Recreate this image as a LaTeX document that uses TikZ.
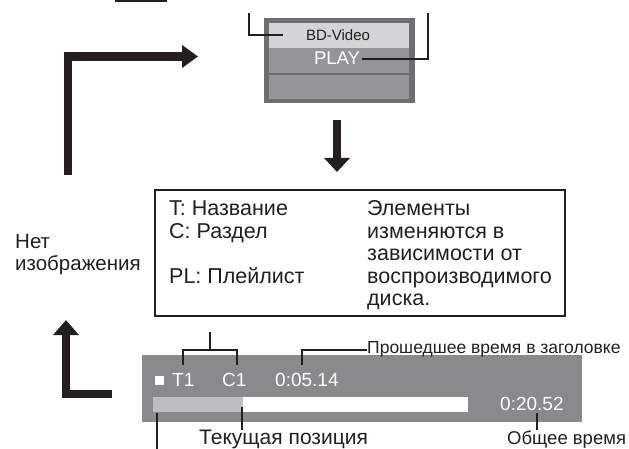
\documentclass[tikz,border=0pt]{standalone}
\usepackage{fontspec}
\setmainfont{Liberation Sans}
\usetikzlibrary{arrows.meta}
\definecolor{scrdark}{HTML}{6D6E70}
\definecolor{scrlight}{HTML}{D3D4D6}
\definecolor{scrmid}{HTML}{939598}
\definecolor{bardark}{HTML}{898A8C}
\definecolor{barlight}{HTML}{BCBEC0}
\definecolor{ink}{HTML}{231F20}
\begin{document}
\begin{tikzpicture}[x=1pt,y=-1pt,
  box/.style={draw=none,inner sep=0pt,outer sep=0pt,anchor=north west},
  txt/.style={inner sep=0pt,anchor=base west,text=ink},
  scrtxt/.style={inner sep=0pt,anchor=base west,text=white},
  callout/.style={draw=ink,line width=1.5pt},
  bigarrow/.style={draw=ink,line width=8.5pt,line join=miter},
]
\useasboundingbox (0,0) rectangle (629,449);
% partial mark at top
\fill[ink] (115,0) rectangle (167,2);

% top screen
\node[box,fill=scrdark,minimum width=151pt,minimum height=85pt] (scr) at (264,18) {};
\node[box,fill=scrlight,minimum width=140pt,minimum height=25pt] (band1) at (269,23) {};
\node[box,fill=scrmid,minimum width=140pt,minimum height=25pt] (band2) at (269,48) {};
\node[box,fill=scrmid,minimum width=140pt,minimum height=24pt] (band3) at (269,75) {};
\node[inner sep=0pt,anchor=base,text=ink,font=\fontsize{15}{16}\selectfont] (bd) at (338,41) {BD-Video};
\node[inner sep=0pt,anchor=base,text=white,font=\fontsize{18.5}{19}\selectfont] (play) at (337,65) {PLAY};
\coordinate (c1top) at (249,13);
\coordinate (c1end) at (283,35);
\coordinate (c2top) at (428,13);
\coordinate (c2end) at (362,59);
\draw[callout] (c1top) |- (c1end);
\draw[callout] (c2top) |- (c2end);

% arrows
\coordinate (a1s) at (68,175);
\coordinate (a1e) at (198,56.5);
\draw[bigarrow,-{Triangle[length=16pt,width=22pt]}] (a1s) |- (a1e);
\coordinate (a2s) at (337,120);
\coordinate (a2e) at (337,172);
\draw[bigarrow,-{Triangle[length=14pt,width=25pt]}] (a2s) -- (a2e);
\coordinate (a3s) at (112,394);
\coordinate (a3e) at (66,320);
\draw[bigarrow,-{Triangle[length=15pt,width=25pt]}] (a3s) -| (a3e);

% info box
\node[box,draw=ink,line width=1.6pt,minimum width=410pt,minimum height=126pt] (info) at (155,190) {};
\begin{scope}[font=\fontsize{21.5}{23}\selectfont]
\node[txt] (t1) at (169,216) {T: Название};
\node[txt] (t2) at (169,238) {C: Раздел};
\node[txt] (t3) at (169,283) {PL: Плейлист};
\node[txt] (e1) at (367,216) {Элементы};
\node[txt] (e2) at (367,238) {изменяются в};
\node[txt] (e3) at (367,260) {зависимости от};
\node[txt] (e4) at (367,283) {воспроизводимого};
\node[txt] (e5) at (367,305) {диска.};
\end{scope}
\begin{scope}[font=\fontsize{20.5}{22}\selectfont]
\node[txt] (n1) at (15,248) {Нет};
\node[txt] (n2) at (15,270) {изображения};
\end{scope}

% bottom screen
\node[box,fill=bardark,minimum width=440pt,minimum height=67pt] (bar) at (142,355) {};
\node[box,fill=white,minimum width=315pt,minimum height=15pt] (prog) at (153,397) {};
\node[box,fill=barlight,minimum width=90pt,minimum height=15pt] (progd) at (153,397) {};
\node[box,fill=white,minimum width=9pt,minimum height=9pt] (sq) at (155,376) {};
\begin{scope}[font=\fontsize{19}{21}\selectfont]
\node[scrtxt] (T1) at (172,386) {T1};
\node[scrtxt] (C1) at (222,386) {C1};
\node[scrtxt] (el) at (275,386) {0:05.14};
\node[scrtxt] (tot) at (500,410) {0:20.52};
\end{scope}
% callouts bottom
\coordinate (b1) at (183,365);
\coordinate (b2) at (237,365);
\coordinate (bm) at (210,350);
\coordinate (btop) at (210,332);
\draw[callout] (b1) |- (bm) -| (b2);
\draw[callout] (bm) -- (btop);
\node[txt,font=\fontsize{17.5}{19}\selectfont] (lel) at (367,353) {Прошедшее время в заголовке};
\coordinate (elb) at (302,365);
\draw[callout] (elb) |- (lel.west |- 0,350);
\node[txt,font=\fontsize{21}{22}\selectfont] (lcur) at (199,444) {Текущая позиция};
\node[txt,font=\fontsize{18.5}{20}\selectfont] (ltot) at (507,444) {Общее время};
\coordinate (s1a) at (157,413);
\coordinate (s1b) at (157,449);
\draw[callout] (s1a) -- (s1b);
\coordinate (s2a) at (242,407);
\coordinate (s2b) at (242,430);
\draw[callout] (s2a) -- (s2b);
\coordinate (s3a) at (537,413);
\coordinate (s3b) at (537,430);
\draw[callout] (s3a) -- (s3b);
\end{tikzpicture}
\end{document}
